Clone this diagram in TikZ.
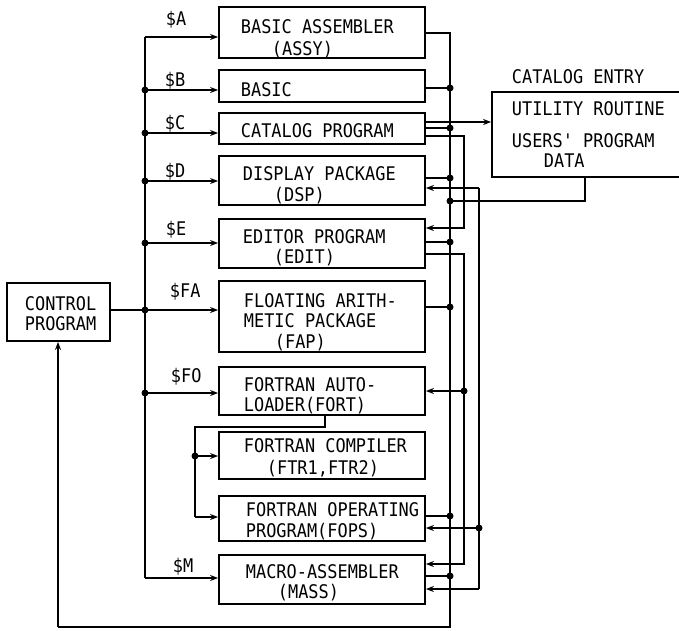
\documentclass[tikz,border=0pt]{standalone}
\usepackage{fontspec}
\newfontfamily\tfont[FakeStretch=0.9]{DejaVu Sans Mono}
\usetikzlibrary{arrows.meta}
\begin{document}
\begin{tikzpicture}[x=1pt,y=-1pt,line width=1.8pt,
  box/.style={draw,rectangle,inner sep=0pt,minimum width=206pt},
  txt/.style={anchor=base west,inner sep=0pt,font=\tfont\fontsize{18.8}{20}\selectfont},
  arr/.style={-{Stealth[length=8pt,width=6pt]}},
  jdot/.style={circle,fill,inner sep=0pt,minimum size=7pt}]
\useasboundingbox (0,0) rectangle (679,630);
% boxes
\node[box,minimum height=51pt] (assy) at (322,32.5) {};
\node[box,minimum height=32pt] (basic) at (322,86) {};
\node[box,minimum height=31pt] (catalog) at (322,128.5) {};
\node[box,minimum height=49pt] (dsp) at (322,180.5) {};
\node[box,minimum height=49pt] (edit) at (322,243.5) {};
\node[box,minimum height=71pt] (fap) at (322,316.5) {};
\node[box,minimum height=48pt] (fort) at (322,391) {};
\node[box,minimum height=47pt] (ftr) at (322,455.5) {};
\node[box,minimum height=45pt] (fops) at (322,518.5) {};
\node[box,minimum height=49pt] (mass) at (322,579.5) {};
\node[box,minimum width=103pt,minimum height=58pt] (control) at (58.5,312) {};
\node[box,minimum width=198pt,minimum height=85pt] (entry) at (591,134.5) {};
% texts
\node[txt] (t1) at (240,33) {BASIC ASSEMBLER};
\node[txt] (t2) at (271,55) {(ASSY)};
\node[txt] (t3) at (240,96) {BASIC};
\node[txt] (t4) at (240,137) {CATALOG PROGRAM};
\node[txt] (t5) at (242,180) {DISPLAY PACKAGE};
\node[txt] (t6) at (273,201) {(DSP)};
\node[txt] (t7) at (242,243) {EDITOR PROGRAM};
\node[txt] (t8) at (273,263) {(EDIT)};
\node[txt] (t9) at (243,307) {FLOATING ARITH-};
\node[txt] (t10) at (243,327) {METIC PACKAGE};
\node[txt] (t11) at (274,348) {(FAP)};
\node[txt] (t12) at (243,391) {FORTRAN AUTO-};
\node[txt] (t13) at (243,411) {LOADER(FORT)};
\node[txt] (t14) at (243,452) {FORTRAN COMPILER};
\node[txt] (t15) at (266,474) {(FTR1,FTR2)};
\node[txt] (t16) at (245,516) {FORTRAN OPERATING};
\node[txt] (t17) at (245,537) {PROGRAM(FOPS)};
\node[txt] (t18) at (245,578) {MACRO-ASSEMBLER};
\node[txt] (t19) at (277,598) {(MASS)};
\node[txt] (t20) at (24,310) {CONTROL};
\node[txt] (t21) at (24,330) {PROGRAM};
\node[txt] (t22) at (511,83) {CATALOG ENTRY};
\node[txt] (t23) at (511,115) {UTILITY ROUTINE};
\node[txt] (t24) at (511,147) {USERS' PROGRAM};
\node[txt] (t25) at (543,167) {DATA};
% labels
\node[txt] (lA) at (165,25) {\$A};
\node[txt] (lB) at (164,86) {\$B};
\node[txt] (lC) at (164,129) {\$C};
\node[txt] (lD) at (164,177) {\$D};
\node[txt] (lE) at (165,235) {\$E};
\node[txt] (lFA) at (169,297) {\$FA};
\node[txt] (lFO) at (170,382) {\$FO};
\node[txt] (lM) at (172,572) {\$M};
% left bus
\coordinate (busT) at (145,37);
\coordinate (busB) at (145,578);
\coordinate (jB) at (145,90);
\coordinate (jC) at (145,133);
\coordinate (jD) at (145,181);
\coordinate (jE) at (145,243);
\coordinate (jFA) at (145,310);
\coordinate (jFO) at (145,393);
\draw (busT) -- (busB);
\draw[arr] (busT) -- (busT -| assy.west);
\draw[arr] (jB) -- (jB -| basic.west);
\draw[arr] (jC) -- (jC -| catalog.west);
\draw[arr] (jD) -- (jD -| dsp.west);
\draw[arr] (jE) -- (jE -| edit.west);
\draw[arr] (control.east |- jFA) -- (jFA -| fap.west);
\draw[arr] (jFO) -- (jFO -| fort.west);
\draw[arr] (busB) -- (busB -| mass.west);
\foreach \p in {jB,jC,jD,jE,jFA,jFO} \node[jdot] at (\p) {};
% fortran loader branches
\coordinate (f1) at (325,427);
\coordinate (f2) at (195,427);
\coordinate (f3) at (195,456);
\coordinate (f4) at (195,517);
\draw (fort.south -| f1) -- (f1) -- (f2) -- (f4);
\draw[arr] (f4) -- (f4 -| fops.west);
\draw[arr] (f3) -- (f3 -| ftr.west);
\node[jdot] at (f3) {};
% right main return line V1
\coordinate (v1t) at (450,33);
\coordinate (v1b) at (450,627);
\coordinate (cr) at (58,627);
\coordinate (a1) at (450,88);
\coordinate (a2) at (450,128);
\coordinate (a3) at (450,178);
\coordinate (a4) at (450,201);
\coordinate (a5) at (450,242);
\coordinate (a6) at (450,307);
\coordinate (a7) at (450,516);
\coordinate (a8) at (450,576);
\draw (assy.east |- v1t) -- (v1t) -- (v1b) -- (cr);
\draw[arr] (cr) -- (cr |- control.south);
\draw (basic.east |- a1) -- (a1);
\draw (catalog.east |- a2) -- (a2);
\draw (dsp.east |- a3) -- (a3);
\draw (edit.east |- a5) -- (a5);
\draw (fap.east |- a6) -- (a6);
\draw (fops.east |- a7) -- (a7);
\draw (mass.east |- a8) -- (a8);
\foreach \p in {a1,a2,a3,a4,a5,a6,a7,a8} \node[jdot] at (\p) {};
% catalog entry
\coordinate (ce) at (470,122);
\coordinate (e1) at (585,201);
\draw[arr] (catalog.east |- ce) -- (ce -| entry.west);
\draw (entry.south -| e1) -- (e1) -- (a4);
% V2
\coordinate (b1) at (464,136);
\coordinate (b2) at (464,228);
\coordinate (b3) at (464,254);
\coordinate (b4) at (464,391);
\coordinate (b5) at (464,564);
\draw[arr] (catalog.east |- b1) -- (b1) -- (b2) -- (b2 -| edit.east);
\draw[arr] (edit.east |- b3) -- (b3) -- (b5) -- (b5 -| mass.east);
\draw[arr] (b4) -- (b4 -| fort.east);
\node[jdot] at (b4) {};
% V3
\coordinate (d1) at (479,188);
\coordinate (d2) at (479,528);
\coordinate (d3) at (479,589);
\draw (d1) -- (d3);
\draw[arr] (d1) -- (d1 -| dsp.east);
\draw[arr] (d2) -- (d2 -| fops.east);
\draw[arr] (d3) -- (d3 -| mass.east);
\node[jdot] at (d2) {};
\end{tikzpicture}
\end{document}
